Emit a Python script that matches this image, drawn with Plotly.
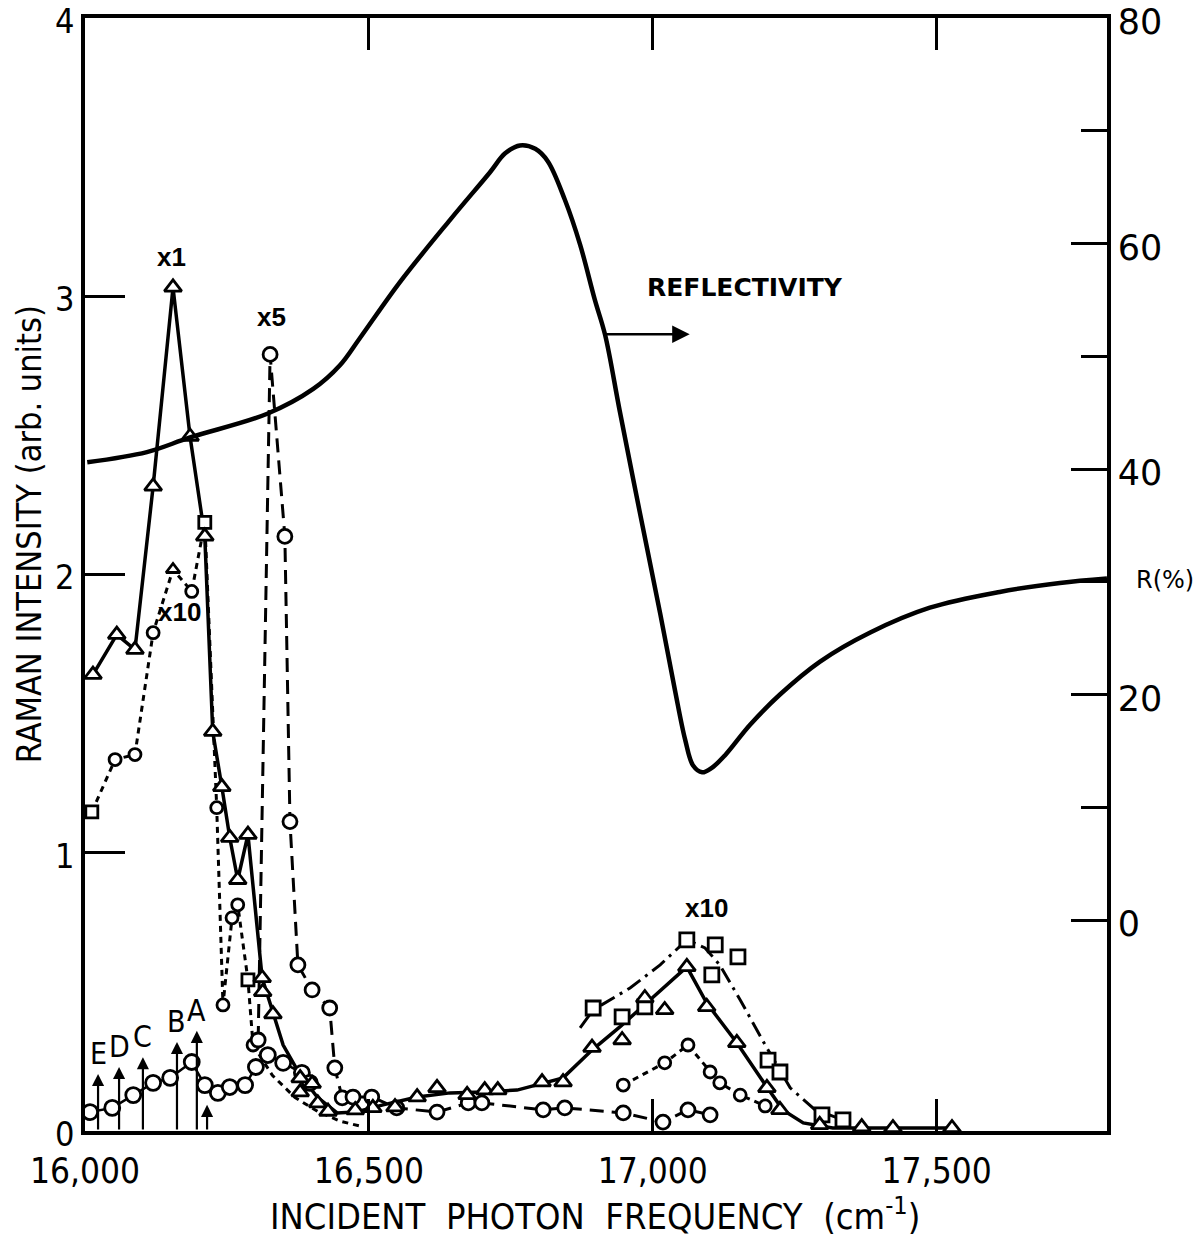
import plotly.graph_objects as go

# ---------------- data ----------------
# Reflectivity (right axis, %)
refl_freq = [16004, 16109, 16185, 16321, 16402, 16449, 16484, 16555, 16643, 16713, 16740,
             16766, 16793, 16815, 16845, 16872, 16898, 16916, 16942, 16977, 17013, 17039, 17057, 17071,
             17087, 17104, 17127, 17171, 17224, 17294, 17383, 17488, 17611, 17717, 17800]
refl_pct = [40.6, 41.5, 42.8, 44.9, 47.1, 49.2, 51.6, 56.6, 62.1, 66.3, 68.0,
            68.7, 68.4, 67.3, 63.9, 59.9, 55.0, 51.9, 45.1, 36.2, 27.2, 20.4, 16.0, 13.7,
            13.1, 13.5, 14.6, 17.3, 20.0, 22.9, 25.5, 27.7, 29.1, 29.9, 30.3]

# Triangles (x1 left, x10 right), data points
tri_freq = [16014, 16056, 16088, 16120, 16155, 16185, 16211, 16225, 16241, 16255, 16269, 16287,
            16312, 16313, 16331, 16379, 16400, 16379, 16410, 16428, 16476, 16507, 16546, 16585,
            16620, 16673, 16704, 16727, 16805, 16842, 16893, 16946, 16986, 17021, 17060, 17095,
            17148, 17201, 17224, 17294, 17368, 17423, 17527]
tri_int = [1.640, 1.784, 1.730, 2.317, 3.032, 2.496, 2.137, 1.435, 1.237, 1.054, 0.903, 1.065,
           0.550, 0.500, 0.420, 0.190, 0.170, 0.140, 0.100, 0.070, 0.075, 0.083, 0.086, 0.122,
           0.155, 0.130, 0.147, 0.147, 0.176, 0.176, 0.300, 0.327, 0.478, 0.435, 0.590, 0.446,
           0.317, 0.155, 0.076, 0.022, 0.014, 0.011, 0.011]
# Solid curve drawn through the triangles
tri_curve_freq = [16014, 16056, 16088, 16120, 16155, 16185, 16211, 16225, 16241, 16255, 16269, 16287,
                  16312, 16329, 16349, 16379, 16409, 16444, 16476, 16525, 16585, 16643, 16701, 16761,
                  16807, 16842, 16893, 16942, 16995, 17060, 17095, 17148, 17201, 17229, 17265, 17317,
                  17405, 17527]
tri_curve_int = [1.640, 1.784, 1.730, 2.317, 3.032, 2.496, 2.137, 1.435, 1.237, 1.054, 0.903, 1.065,
                 0.550, 0.435, 0.309, 0.201, 0.122, 0.065, 0.068, 0.094, 0.122, 0.137, 0.140, 0.147,
                 0.173, 0.191, 0.291, 0.374, 0.471, 0.590, 0.460, 0.317, 0.158, 0.076, 0.029, 0.011,
                 0.011, 0.011]

# Short-dashed circles, x10 (left)
dotl_freq = [16012, 16053, 16088, 16120, 16155, 16188, 16211, 16232, 16243, 16259, 16269, 16287, 16296]
dotl_int = [1.147, 1.335, 1.353, 1.791, 2.018, 1.939, 2.187, 1.162, 0.453, 0.766, 0.813, 0.543, 0.309]
dotl_tail_freq = [16296, 16330, 16370, 16410, 16450, 16490]
dotl_tail_int = [0.309, 0.200, 0.120, 0.070, 0.035, 0.015]

# Long-dashed circles, x5
dash_freq = [16305, 16326, 16352, 16361, 16375, 16400, 16431, 16440, 16453, 16472, 16505, 16549,
             16620, 16675, 16699, 16807, 16845, 16948, 17018, 17062, 17101]
dash_int = [0.327, 2.791, 2.137, 1.112, 0.597, 0.507, 0.442, 0.227, 0.119, 0.122, 0.122, 0.083,
            0.068, 0.101, 0.101, 0.076, 0.083, 0.065, 0.032, 0.076, 0.058]

# Solid-line circles, x1 (bottom)
low_freq = [16009, 16048, 16085, 16120, 16150, 16188, 16211, 16234, 16255, 16282, 16301, 16322,
            16349, 16382, 16396]
low_int = [0.068, 0.083, 0.129, 0.173, 0.191, 0.248, 0.165, 0.137, 0.158, 0.165, 0.230, 0.273,
           0.245, 0.209, 0.173]

# Short-dashed circles, x10 (right)
dotr_freq = [16948, 17021, 17062, 17101, 17118, 17154, 17198]
dotr_int = [0.165, 0.245, 0.309, 0.212, 0.173, 0.129, 0.090]

# Squares, x10 (right), with dash-dot curve
sq_freq = [16895, 16946, 16986, 17060, 17110, 17104, 17150, 17203, 17224, 17298, 17335]
sq_int = [0.442, 0.410, 0.446, 0.687, 0.669, 0.561, 0.626, 0.255, 0.212, 0.058, 0.040]
sq_curve_freq = [16872, 16895, 16960, 17013, 17060, 17092, 17118, 17154, 17198, 17242, 17286, 17335]
sq_curve_int = [0.371, 0.435, 0.514, 0.597, 0.687, 0.658, 0.597, 0.471, 0.309, 0.155, 0.076, 0.040]

# Marked frequencies (arrows)
arrow_labels = ["E", "D", "C", "B", "A", ""]
arrow_freq = [16023, 16060, 16102, 16162, 16197, 16215]
arrow_tip = [0.205, 0.230, 0.265, 0.320, 0.360, 0.094]

# Axis ticks
x_ticks = [16000, 16500, 17000, 17500]
x_ticktext = ["16,000", "16,500", "17,000", "17,500"]
y_ticks = [0, 1, 2, 3, 4]
r_ticks = [0, 20, 40, 60, 80]
r_minor = [10, 30, 50, 70]

# ---------------- figure ----------------
BLACK = "black"
NARROW = "Liberation Sans Narrow, DejaVu Sans Condensed, Arial Narrow, sans-serif"
WIDE = "DejaVu Sans, Verdana, sans-serif"

fig = go.Figure()

fig.add_trace(go.Scatter(x=refl_freq, y=refl_pct, yaxis="y2", mode="lines",
                         line=dict(color=BLACK, width=4.5, shape="spline", smoothing=1.0),
                         hoverinfo="skip"))

fig.add_trace(go.Scatter(x=tri_curve_freq, y=tri_curve_int, mode="lines",
                         line=dict(color=BLACK, width=3.5)))

fig.add_trace(go.Scatter(x=low_freq, y=low_int, mode="lines",
                         line=dict(color=BLACK, width=2.5)))

fig.add_trace(go.Scatter(x=dotl_freq, y=dotl_int, mode="lines",
                         line=dict(color=BLACK, width=3, dash="6px,5px")))
fig.add_trace(go.Scatter(x=dotl_tail_freq, y=dotl_tail_int, mode="lines",
                         line=dict(color=BLACK, width=3, dash="6px,5px")))

fig.add_trace(go.Scatter(x=dash_freq, y=dash_int, mode="lines",
                         line=dict(color=BLACK, width=3, dash="14px,8px")))

fig.add_trace(go.Scatter(x=dotr_freq, y=dotr_int, mode="lines",
                         line=dict(color=BLACK, width=3, dash="6px,5px")))

fig.add_trace(go.Scatter(x=sq_curve_freq, y=sq_curve_int, mode="lines",
                         line=dict(color=BLACK, width=3, dash="16px,6px,3px,6px")))

def mk(symbol, size=13):
    return dict(symbol=symbol, size=size, color="white", line=dict(color=BLACK, width=2.8))

dotl_symbols = ["square", "circle", "circle", "circle", "triangle-up", "circle", "square",
                "circle", "circle", "circle", "circle", "square", "circle"]
fig.add_trace(go.Scatter(x=dotl_freq, y=dotl_int, mode="markers",
                         marker=dict(symbol=dotl_symbols, size=12, color="white",
                                     line=dict(color=BLACK, width=2.8))))
fig.add_trace(go.Scatter(x=dash_freq, y=dash_int, mode="markers", marker=mk("circle", 14)))
fig.add_trace(go.Scatter(x=low_freq, y=low_int, mode="markers", marker=mk("circle", 15)))
fig.add_trace(go.Scatter(x=dotr_freq, y=dotr_int, mode="markers", marker=mk("circle", 12)))
fig.add_trace(go.Scatter(x=sq_freq, y=sq_int, mode="markers", marker=mk("square", 14)))
fig.add_trace(go.Scatter(x=tri_freq, y=tri_int, mode="markers", marker=mk("triangle-up", 15)))

annotations = []
# arrows with letters
for lab, f, tip in zip(arrow_labels, arrow_freq, arrow_tip):
    annotations.append(dict(x=f, y=tip, ax=f, ay=0, xref="x", yref="y", axref="x", ayref="y",
                            showarrow=True, arrowhead=2, arrowsize=1.1, arrowwidth=2.2,
                            arrowcolor=BLACK, text=""))
    if lab:
        annotations.append(dict(x=f, y=tip, xref="x", yref="y", text=lab, showarrow=False,
                                yanchor="bottom", yshift=1,
                                font=dict(family=NARROW, size=30, color=BLACK)))

# scale labels
for txt, f, v in [("x1", 16153, 3.14), ("x5", 16329, 2.925), ("x10", 16167, 1.867), ("x10", 17095, 0.80)]:
    annotations.append(dict(x=f, y=v, xref="x", yref="y", text="<b>" + txt + "</b>", showarrow=False,
                            font=dict(family="Liberation Sans, Arial, sans-serif", size=26, color=BLACK)))

annotations.append(dict(x=17162, y=3.03, xref="x", yref="y", text="<b>REFLECTIVITY</b>", showarrow=False,
                        font=dict(family=WIDE, size=25, color=BLACK)))
annotations.append(dict(x=17065, y=2.863, ax=16916, ay=2.863, xref="x", yref="y", axref="x", ayref="y",
                        showarrow=True, arrowhead=2, arrowsize=1.4, arrowwidth=2.5, arrowcolor=BLACK, text=""))

# axis titles
annotations.append(dict(x=-0.054, y=0.536, xref="paper", yref="paper", text="RAMAN INTENSITY (arb. units)",
                        textangle=-90, showarrow=False, xanchor="center", yanchor="middle",
                        font=dict(family=NARROW, size=34, color=BLACK)))
annotations.append(dict(x=0.499, y=-0.0745, xref="paper", yref="paper",
                        text="INCIDENT  PHOTON  FREQUENCY  (cm<sup>-1</sup>)",
                        showarrow=False, xanchor="center", yanchor="middle",
                        font=dict(family=NARROW, size=36, color=BLACK)))
annotations.append(dict(x=1.057, y=0.495, xref="paper", yref="paper", text="R(%)", showarrow=False,
                        xanchor="center", yanchor="middle",
                        font=dict(family=WIDE, size=24, color=BLACK)))

fig.update_layout(
    width=1200, height=1241,
    margin=dict(l=85, r=93, t=18, b=110, autoexpand=False),
    paper_bgcolor="white", plot_bgcolor="white",
    showlegend=False,
    annotations=annotations,
    xaxis=dict(range=[16000, 17800], tickvals=x_ticks, ticktext=x_ticktext,
               ticks="inside", ticklen=32, tickwidth=2.5, tickcolor=BLACK,
               showline=True, linewidth=3.5, linecolor=BLACK, mirror="ticks",
               showgrid=False, zeroline=False, ticklabeloverflow="allow",
               ticklabelstandoff=6,
               tickfont=dict(family=NARROW, size=35, color=BLACK)),
    yaxis=dict(range=[0, 4], tickvals=y_ticks,
               ticks="inside", ticklen=40, tickwidth=2.5, tickcolor=BLACK,
               showline=True, linewidth=3.5, linecolor=BLACK,
               showgrid=False, zeroline=False, ticklabeloverflow="allow",
               ticklabelshift=3,
               tickfont=dict(family=NARROW, size=34, color=BLACK)),
    yaxis2=dict(range=[-18.71, 80], overlaying="y", side="right", tickvals=r_ticks,
                ticks="inside", ticklen=36, tickwidth=2.5, tickcolor=BLACK,
                minor=dict(tickmode="array", tickvals=r_minor, ticks="inside", ticklen=26,
                           tickwidth=2.5, tickcolor=BLACK),
                showline=True, linewidth=3.5, linecolor=BLACK,
                showgrid=False, zeroline=False, ticklabeloverflow="allow",
                ticklabelshift=4,
                tickfont=dict(family=WIDE, size=35, color=BLACK)),
)

fig.write_html("out.html")
